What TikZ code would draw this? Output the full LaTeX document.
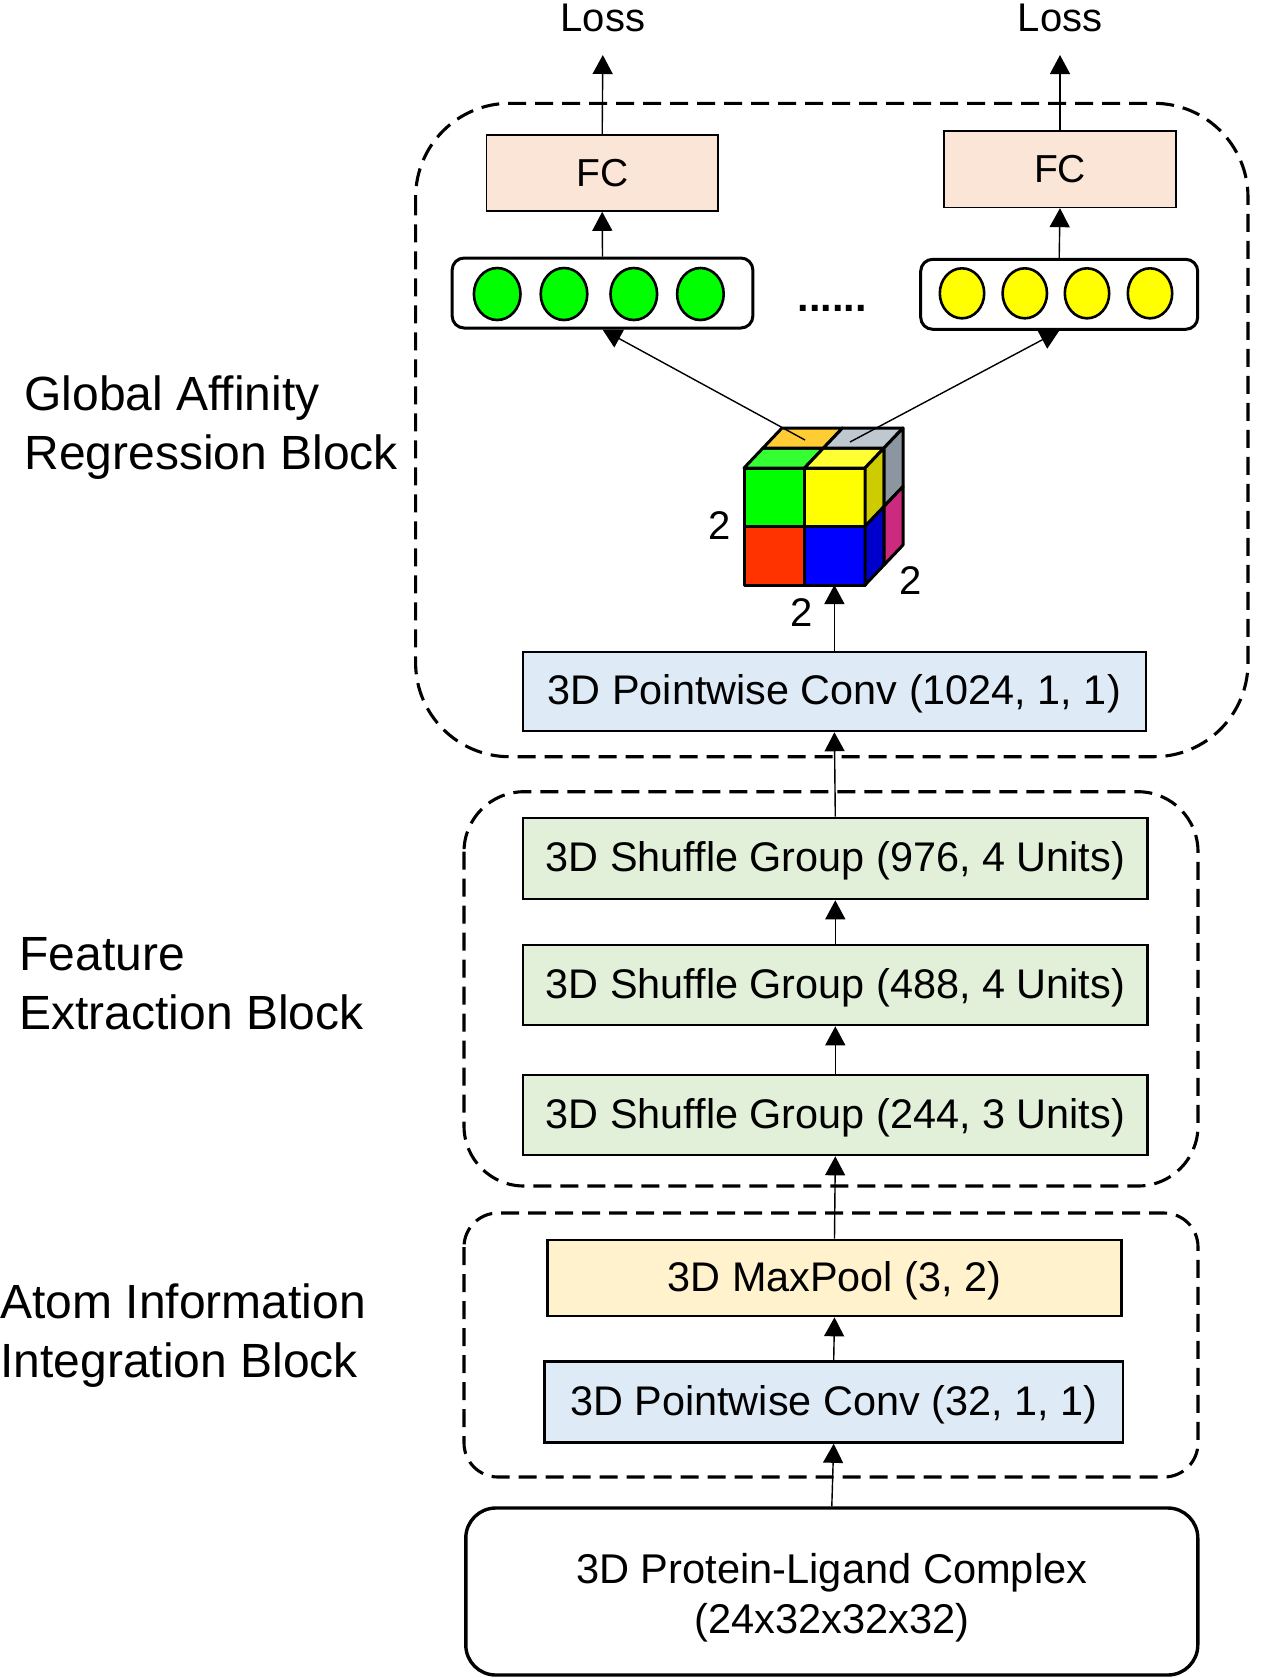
\documentclass[tikz,border=0pt]{standalone}
\usepackage{fontspec}
\setmainfont{Liberation Sans}
\usetikzlibrary{arrows.meta, calc}

\definecolor{pwblue}{HTML}{DEEBF7}
\definecolor{sggreen}{HTML}{E2F0D9}
\definecolor{mpgold}{HTML}{FFF2CC}
\definecolor{fcpink}{HTML}{FBE5D6}
\definecolor{cgreen}{HTML}{00FF00}
\definecolor{cyellow}{HTML}{FFFF00}
\definecolor{cred}{HTML}{FF3300}
\definecolor{cblue}{HTML}{0000FF}
\definecolor{ctopgreen}{HTML}{33FF33}
\definecolor{ctopyellow}{HTML}{FFFF33}
\definecolor{ctoporange}{HTML}{FFCC33}
\definecolor{ctopgray}{HTML}{BFC7D0}
\definecolor{csideolive}{HTML}{CCCC00}
\definecolor{csideblue}{HTML}{0000CC}
\definecolor{csidegray}{HTML}{8C96A0}
\definecolor{csidemagenta}{HTML}{CC2A7F}

\tikzset{
    arr/.style={-{Triangle[length=9.5pt,width=10pt]}, line width=0.7pt},
    layer/.style={draw, line width=1pt, inner sep=0pt, text height=16pt, text depth=2.7pt,
        font=\fontsize{20.7}{24}\selectfont},
    blockbox/.style={draw, dash pattern=on 9pt off 4.5pt, line width=1.55pt},
    blocklabel/.style={anchor=west, align=left, inner sep=0pt,
        font=\fontsize{24}{29.5}\selectfont},
    vecbox/.style={draw, line width=1.5pt, rounded corners=6pt},
    cubeline/.style={draw, line width=1.5pt, line join=round},
}

\begin{document}
\begin{tikzpicture}[x=0.5pt, y=-0.5pt]
    \useasboundingbox (0,0) rectangle (1272,1678);

    % dashed blocks
    \draw[blockbox, rounded corners=47pt] (415.6,103.3) rectangle (1248,756.7);
    \draw[blockbox, rounded corners=30pt] (464,791.7) rectangle (1198,1186);
    \draw[blockbox, rounded corners=17pt] (464,1213) rectangle (1198,1477);

    \node[blocklabel] (gablabel) at (24,428) {Global Affinity\\Regression Block};
    \node[blocklabel] (feblabel) at (19,984) {Feature\\Extraction Block};
    \node[blocklabel] (aiblabel) at (0,1336) {Atom Information\\Integration Block};

    % input and layers
    \node[draw, line width=1.7pt, rounded corners=15pt, minimum width=366pt,
        minimum height=83.5pt] (input) at (831.8,1591.5) {};
    \node[align=center, inner sep=0pt, font=\fontsize{20.8}{25}\selectfont]
        (inputtext) at ([yshift=-3pt]input.center) {3D Protein-Ligand Complex\\(24x32x32x32)};
    \node[layer, fill=pwblue, line width=1.3pt, minimum width=289.3pt, minimum height=40.5pt]
        (pw32) at (833.7,1402) {3D Pointwise Conv (32, 1, 1)};
    \node[layer, fill=mpgold, line width=1.3pt, minimum width=287pt, minimum height=38pt]
        (maxpool) at (834.5,1278) {3D MaxPool (3, 2)};
    \node[layer, fill=sggreen, line width=1.3pt, minimum width=312.35pt, minimum height=40pt]
        (sg244) at (835.3,1115) {3D Shuffle Group (244, 3 Units)};
    \node[layer, fill=sggreen, line width=1.3pt, minimum width=312.35pt, minimum height=40pt]
        (sg488) at (835.3,985) {3D Shuffle Group (488, 4 Units)};
    \node[layer, fill=sggreen, line width=1.3pt, minimum width=312.35pt, minimum height=40.5pt]
        (sg976) at (835.3,858.5) {3D Shuffle Group (976, 4 Units)};
    \node[layer, fill=pwblue, minimum width=311.35pt, minimum height=39.75pt]
        (pw1024) at (834.4,691.5) {3D Pointwise Conv (1024, 1, 1)};

    % 2x2x2 output cube
    \filldraw[cubeline, fill=cgreen] (744,468) rectangle (804.5,526.5);
    \filldraw[cubeline, fill=cyellow] (804.5,468) rectangle (865,526.5);
    \filldraw[cubeline, fill=cred] (744,526.5) rectangle (804.5,585);
    \filldraw[cubeline, fill=cblue] (804.5,526.5) rectangle (865,585);
    \filldraw[cubeline, fill=ctopgreen] (744,468) -- (804.5,468) -- (823.5,448) -- (763,448) -- cycle;
    \filldraw[cubeline, fill=ctopyellow] (804.5,468) -- (865,468) -- (884,448) -- (823.5,448) -- cycle;
    \filldraw[cubeline, fill=ctoporange] (763,448) -- (823.5,448) -- (842.5,428) -- (782,428) -- cycle;
    \filldraw[cubeline, fill=ctopgray] (823.5,448) -- (884,448) -- (903,428) -- (842.5,428) -- cycle;
    \filldraw[cubeline, fill=csideolive] (865,468) -- (884,448) -- (884,506.5) -- (865,526.5) -- cycle;
    \filldraw[cubeline, fill=csideblue] (865,526.5) -- (884,506.5) -- (884,565) -- (865,585) -- cycle;
    \filldraw[cubeline, fill=csidegray] (884,448) -- (903,428) -- (903,486.5) -- (884,506.5) -- cycle;
    \filldraw[cubeline, fill=csidemagenta] (884,506.5) -- (903,486.5) -- (903,545) -- (884,565) -- cycle;
    \coordinate (cubeF) at (744,585);
    \coordinate (cubeA) at (805,440);
    \coordinate (cubeB) at (850,442);

    \node[font=\fontsize{20}{24}\selectfont] (dimh) at (719.5,526) {2};
    \node[font=\fontsize{20}{24}\selectfont] (dimw) at (801.5,613) {2};
    \node[font=\fontsize{20}{24}\selectfont] (dimd) at (911,581) {2};

    % feature vectors
    \node[vecbox, minimum width=150.35pt, minimum height=35pt] (gvec) at (602.5,293) {};
    \foreach \x in {497.2,564,633.8,700.4}
        \filldraw[line width=1.3pt, fill=cgreen] (\x,294) ellipse (11.65pt and 13pt);
    \node[vecbox, minimum width=138.5pt, minimum height=35pt] (yvec) at (1059.2,294.3) {};
    \foreach \x in {962,1024.8,1087,1150}
        \filldraw[line width=1.3pt, fill=cyellow] (\x,293.3) ellipse (11.1pt and 12.5pt);
    \node[anchor=base, inner sep=0pt, font=\bfseries\fontsize{20.7}{24}\selectfont]
        (dots) at (832,311) {......};

    % heads
    \node[layer, line width=0.8pt, fill=fcpink, minimum width=115.8pt, minimum height=38pt,
        font=\fontsize{19.5}{24}\selectfont] (fcL) at (602.2,173) {FC};
    \node[layer, line width=0.8pt, fill=fcpink, minimum width=115.85pt, minimum height=38.15pt,
        font=\fontsize{19.5}{24}\selectfont] (fcR) at (1060,169.2) {FC};
    \node[anchor=base, inner sep=0pt, font=\fontsize{20}{24}\selectfont] (lossL) at (603,31) {Loss};
    \node[anchor=base, inner sep=0pt, font=\fontsize{20}{24}\selectfont] (lossR) at (1060,31) {Loss};

    % connectors
    \draw[arr] (input.north) -- (pw32.south);
    \draw[arr] (pw32.north) -- (maxpool.south);
    \draw[arr] (maxpool.north) -- (sg244.south);
    \draw[arr] (sg244.north) -- (sg488.south);
    \draw[arr] (sg488.north) -- (sg976.south);
    \draw[arr] (sg976.north) -- (pw1024.south);
    \draw[arr] (pw1024.north) -- (pw1024.north |- cubeF);
    \draw[arr] (cubeA) -- (gvec.south);
    \draw[arr] (cubeB) -- (yvec.south);
    \draw[arr] (gvec.north) -- (fcL.south);
    \draw[arr] (yvec.north) -- (fcR.south);
    \draw[arr, shorten >=12pt] (fcL.north) -- (lossL.base);
    \draw[arr, shorten >=12pt] (fcR.north) -- (lossR.base);
\end{tikzpicture}
\end{document}
